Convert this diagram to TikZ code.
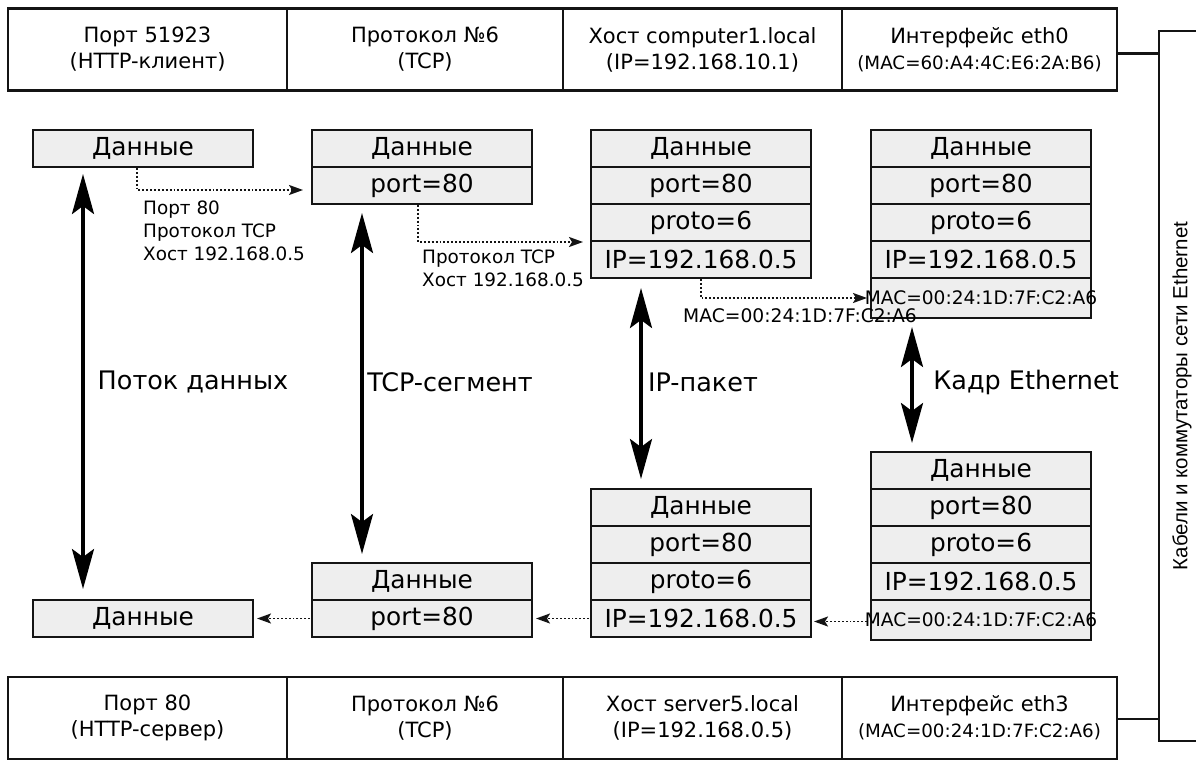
\documentclass[tikz,border=0pt]{standalone}
\usepackage{fontspec}
\setmainfont{DejaVu Sans}
\newfontfamily\thinfont{Liberation Sans}
\usetikzlibrary{arrows.meta}
\definecolor{boxgray}{RGB}{238,238,238}
\definecolor{ink}{RGB}{20,20,20}
\newcommand{\overflowtext}[1]{\makebox[0pt][c]{#1}}
\begin{document}
\begin{tikzpicture}[x=1pt,y=-1pt,
  row/.style={draw=ink, fill=boxgray, line width=2pt, minimum width=220pt,
    minimum height=37pt, inner sep=0pt, font=\fontsize{24.8}{29}\selectfont},
  macrow/.style={row, minimum height=40pt, font=\fontsize{18.6}{22}\selectfont},
  cell/.style={draw=ink, line width=2.6pt, minimum height=82pt, inner sep=0pt,
    align=center, font=\fontsize{21}{26}\selectfont},
  flow/.style={line width=3.5pt, draw=black,
    {Stealth[length=40pt,width=22pt,inset=8pt]}-{Stealth[length=40pt,width=22pt,inset=8pt]}},
  hop/.style={dotted, line width=1.9pt, draw=ink, -{Stealth[length=14pt,width=10pt,inset=3pt]}},
  note/.style={anchor=north west, align=left, inner sep=0pt, font=\fontsize{18.4}{23}\selectfont},
  biglabel/.style={inner sep=0pt, font=\fontsize{25.5}{29}\selectfont},
  busline/.style={line width=2.2pt, draw=ink}
]
\useasboundingbox (0,0) rectangle (1196,761);
\clip (0,0) rectangle (1196,761);

% top bar
\node[cell, minimum width=279pt] (t1) at (147.5,49.5) {Порт 51923\\(HTTP-клиент)};
\node[cell, minimum width=276pt] (t2) at (425,49.5) {Протокол №6\\(TCP)};
\node[cell, minimum width=279pt] (t3) at (702.5,49.5) {Хост computer1.local\\(IP=192.168.10.1)};
\node[cell, minimum width=275pt] (t4) at (979.5,49.5) {Интерфейс eth0\\{\fontsize{18.3}{26}\selectfont(MAC=60:A4:4C:E6:2A:B6)}};

% bottom bar
\node[cell, minimum width=279pt] (b1) at (147.5,718) {Порт 80\\(HTTP-сервер)};
\node[cell, minimum width=276pt] (b2) at (425,718) {Протокол №6\\(TCP)};
\node[cell, minimum width=279pt] (b3) at (702.5,718) {Хост server5.local\\(IP=192.168.0.5)};
\node[cell, minimum width=275pt] (b4) at (979.5,718) {Интерфейс eth3\\{\fontsize{18.3}{26}\selectfont(MAC=00:24:1D:7F:C2:A6)}};

% bus
\node[draw=ink, line width=2.2pt, minimum width=90pt, minimum height=710pt, inner sep=0pt] (bus) at (1204,386) {};
\node[rotate=90, inner sep=0pt, font=\thinfont\fontsize{20.5}{24}\selectfont] (buslabel) at (1182,396) {Кабели и коммутаторы сети Ethernet};
\coordinate (tj) at ([yshift=-4pt]t4.east);
\coordinate (bj) at ([yshift=-1pt]b4.east);
\draw[busline] (tj) -- (bus.west |- tj);
\draw[busline] (bj) -- (bus.west |- bj);

% sender packets (top)
\node[row] (a1) at (143,148.5) {Данные};

\node[row] (a2d) at (422,148.5) {Данные};
\node[row] (a2p) at (422,185.5) {port=80};

\node[row] (a3d) at (701,148.5) {Данные};
\node[row] (a3p) at (701,185.5) {port=80};
\node[row] (a3r) at (701,222.5) {proto=6};
\node[row] (a3i) at (701,259.5) {IP=192.168.0.5};

\node[row] (a4d) at (981,148.5) {Данные};
\node[row] (a4p) at (981,185.5) {port=80};
\node[row] (a4r) at (981,222.5) {proto=6};
\node[row] (a4i) at (981,259.5) {IP=192.168.0.5};
\node[macrow] (a4m) at (981,298) {\overflowtext{MAC=00:24:1D:7F:C2:A6}};

% receiver packets (bottom)
\node[row] (c1) at (143,618.5) {Данные};

\node[row] (c2d) at (422,581.5) {Данные};
\node[row] (c2p) at (422,618.5) {port=80};

\node[row] (c3d) at (701,507.5) {Данные};
\node[row] (c3p) at (701,544.5) {port=80};
\node[row] (c3r) at (701,581.5) {proto=6};
\node[row] (c3i) at (701,618.5) {IP=192.168.0.5};

\node[row] (c4d) at (981,470.5) {Данные};
\node[row] (c4p) at (981,507.5) {port=80};
\node[row] (c4r) at (981,544.5) {proto=6};
\node[row] (c4i) at (981,581.5) {IP=192.168.0.5};
\node[macrow] (c4m) at (981,620) {\overflowtext{MAC=00:24:1D:7F:C2:A6}};

% vertical flows
\draw[flow, shorten <=6pt, shorten >=10pt] ([xshift=-60pt]a1.south) -- ([xshift=-60pt]c1.north);
\draw[flow, shorten <=8pt, shorten >=8pt] ([xshift=-60pt]a2p.south) -- ([xshift=-60pt]c2d.north);
\draw[flow, shorten <=9pt, shorten >=9pt] ([xshift=-60pt]a3i.south) -- ([xshift=-60pt]c3d.north);
\draw[flow, shorten <=8pt, shorten >=8pt] ([xshift=-69pt]a4m.south) -- ([xshift=-69pt]c4d.north);

\node[biglabel] (l1) at (193,382) {Поток данных};
\node[biglabel] (l2) at (450,382) {TCP-сегмент};
\node[biglabel] (l3) at (703,382) {IP-пакет};
\node[biglabel] (l4) at (1026,382) {Кадр Ethernet};

% encapsulation hops
\coordinate (h1s) at ([xshift=-6pt]a1.south);
\coordinate (h1e) at ([yshift=-4.5pt]a2p.west);
\draw[hop, shorten >=8pt] (h1s) |- (h1e);
\node[note] (n1) at (143,201) {Порт 80\\Протокол TCP\\Хост 192.168.0.5};

\coordinate (h2s) at ([xshift=-4pt]a2p.south);
\coordinate (h2e) at (a3r.south west);
\draw[hop, shorten >=7pt] (h2s) |- (h2e);
\node[note] (n2) at (422,250) {Протокол TCP\\Хост 192.168.0.5};

\coordinate (h3s) at (a3i.south);
\draw[hop, shorten >=3pt] (h3s) |- (a4m.west);
\node[note, font=\fontsize{18.7}{23}\selectfont] (n3) at (683,308) {MAC=00:24:1D:7F:C2:A6};

% decapsulation hops
\draw[hop, shorten <=3pt, shorten >=2pt] ([yshift=-1.5pt]c4m.west) -- ([yshift=-1.5pt]c4m.west -| c3i.east);
\draw[hop, shorten <=1pt, shorten >=3pt] (c3i.west) -- (c2p.east);
\draw[hop, shorten <=1pt, shorten >=3pt] (c2p.west) -- (c1.east);
\end{tikzpicture}
\end{document}
